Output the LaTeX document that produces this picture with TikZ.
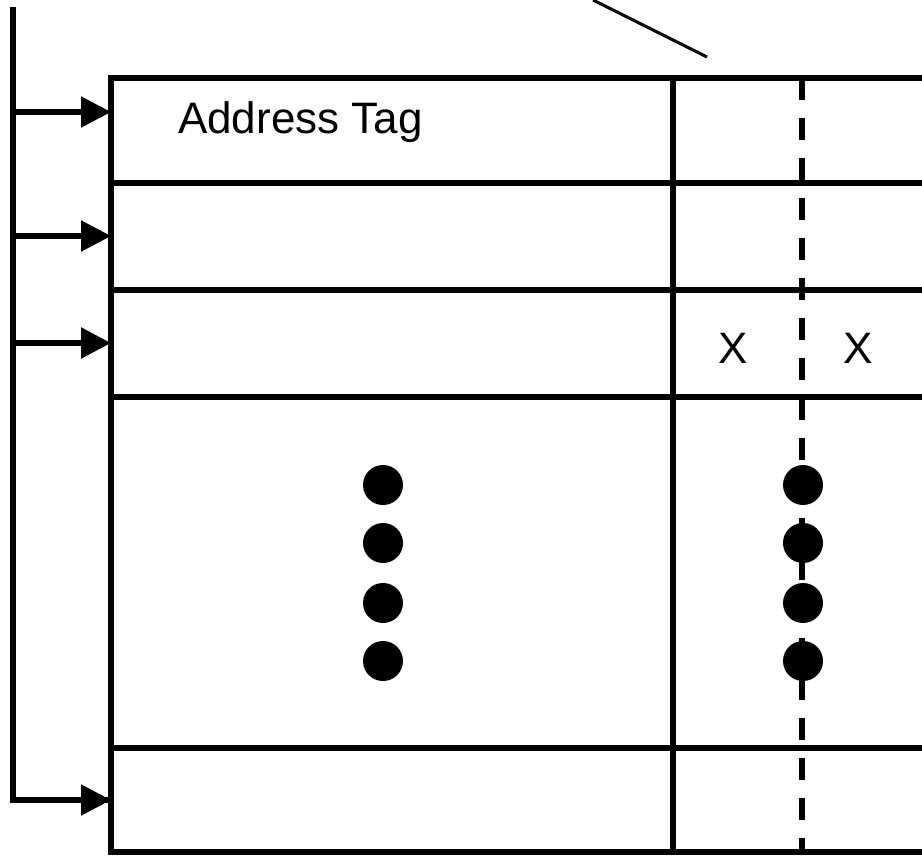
\documentclass[tikz,border=0pt]{standalone}
\usepackage{fontspec}
\setmainfont{Liberation Sans}
\usetikzlibrary{positioning,arrows.meta}

\tikzset{
    cell/.style={draw,anchor=north west,inner sep=0pt,outer sep=0pt,minimum width=562pt},
    dot/.style={circle,fill,inner sep=0pt,minimum size=40pt},
    busarrow/.style={-{Triangle[length=30pt,width=30pt]}}
}

\begin{document}
\begin{tikzpicture}[x=1pt,y=-1pt,line width=5.5pt,font=\fontsize{44}{50}\selectfont]
        \useasboundingbox (0,0) rectangle (922,855);
        \clip (0,0) rectangle (922,855);

        % rows of the table: tag part and data part
        \foreach \name/\top/\h in {r1/78/105,r2/183/107,r3/290/107,rdots/397/351,rn/748/104}{
            \node[cell,minimum height=\h pt](tag\name)at(111,\top){};
            \node[cell,minimum height=\h pt](data\name)at(673,\top){};
        }
        \draw[line width=6pt,dash pattern=on 22pt off 18pt] (datar1.north west) ++(129,0) coordinate(split) -- (split |- datarn.south);

        \node[anchor=base west](addr)at(172,133){Address Tag};
        \node(x1)at(733,348){X};
        \node(x2)at(858,348){X};

        \foreach \i/\y in {1/485,2/543,3/603,4/661}{
            \node[dot](ld\i)at(383,\y){};
            \node[dot](rd\i)at(803,\y){};
        }

        % bus on the left
        \coordinate(bustop)at(13,7);
        \coordinate(bus1)at(13,112);
        \coordinate(bus2)at(13,236);
        \coordinate(bus3)at(13,343);
        \coordinate(busn)at(13,800);
        \draw[line width=6pt] (bustop) -- (busn) -- (busn -| tagrn.west);
        \draw[busarrow] (busn) -- (busn -| tagrn.west);
        \draw[busarrow] (bus1) -- (bus1 -| tagr1.west);
        \draw[busarrow] (bus2) -- (bus2 -| tagr2.west);
        \draw[busarrow] (bus3) -- (bus3 -| tagr3.west);

        \coordinate(lead1)at(593,0);
        \coordinate(lead2)at(707,57);
        \draw[line width=3pt] (lead1) -- (lead2);
\end{tikzpicture}
\end{document}
